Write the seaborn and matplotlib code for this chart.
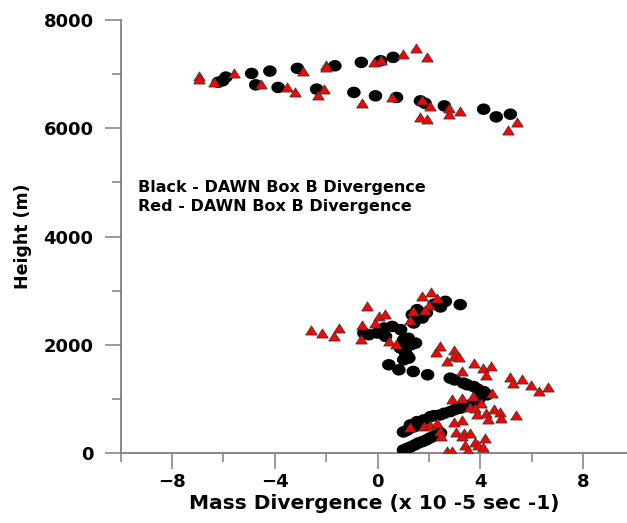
import matplotlib
matplotlib.use('Agg')
import matplotlib.pyplot as plt
import seaborn as sns
import numpy as np
import pandas as pd
from matplotlib.path import Path
from matplotlib.markers import MarkerStyle
from matplotlib.ticker import MultipleLocator

# black circles - upper and lower clusters (x in 1e-5 s-1, y in m)
black_x = [-6.03, -5.90, -6.20, -4.90, -4.19, -4.74, -3.87, -3.12, -2.37, -1.66,
           -0.92, -0.63, 0.12, 0.61, -0.08, 0.74, 1.67, 1.85, 2.60, 4.13, 4.62, 5.17,
           3.22, 2.64, 2.45, 2.20, 1.90, 1.54, 1.35, 1.74, 1.41, 0.57, 0.25, -0.01,
           -0.34, -0.53, 0.31, 0.90, 1.02, 1.20, 1.48, 1.30, 0.89, 1.09, 1.15, 1.22,
           1.02, 0.44, 0.83, 1.39, 1.95, 2.83, 3.00, 3.35, 3.50, 3.74, 3.90, 4.13,
           4.20, 4.26, 3.93, 3.80, 3.61, 3.40, 3.22, 3.00, 2.83, 2.60, 2.45, 2.20,
           2.06, 1.80, 1.54, 1.28, 1.45, 1.28, 1.15, 1.01, 1.01, 1.15, 1.28, 1.45,
           1.59, 1.75, 1.90, 2.05, 2.21, 2.35, 2.45]
black_y = [6877, 6945, 6850, 7013, 7056, 6802, 6754, 7106, 6723, 7154,
           6662, 7217, 7247, 7310, 6599, 6569, 6506, 6460, 6413, 6352, 6210, 6260,
           2741, 2802, 2698, 2750, 2590, 2648, 2556, 2494, 2402, 2339, 2309, 2217,
           2185, 2217, 2154, 2280, 2093, 2120, 2031, 2000, 1939, 1846, 1800, 1754,
           1722, 1630, 1537, 1506, 1445, 1383, 1350, 1291, 1260, 1228, 1180, 1135,
           1100, 1074, 982, 940, 889, 860, 828, 800, 765, 735, 704, 690,
           672, 611, 580, 519, 490, 463, 420, 389, 56, 85, 111, 150,
           185, 210, 241, 280, 315, 340, 370]

# red triangles
red_x = [-6.94, -6.94, -6.36, -5.58, -4.54, -3.53, -3.22, -2.92, -2.02, -2.02,
         -2.08, -2.30, -0.60, -0.14, 0.12, 1.00, 1.49, 1.93, 0.57, 1.74, 2.06,
         1.64, 1.93, 2.77, 2.77, 3.22, 5.42, 5.06,
         -2.60, -2.15, -1.70, -1.50, -0.40, -0.62, -0.66, -0.08, 0.05, 0.31, 0.44,
         0.70, 1.25, 1.39, 1.74, 2.10, 2.32, 1.99, 1.86, 2.28, 2.45, 2.71, 2.96,
         2.99, 3.16, 3.29, 3.74, 4.09, 4.23, 4.41, 5.17, 5.27, 5.64, 5.98, 6.29,
         6.65, 4.45, 3.72, 2.90, 3.29, 4.03, 3.58, 3.81, 3.87, 4.23, 4.52, 4.78,
         4.82, 5.40, 4.30, 2.96, 3.29, 1.25, 1.80, 2.06, 2.32, 2.42, 2.49, 3.07,
         3.35, 3.58, 3.81, 3.42, 3.93, 4.19, 4.09, 3.51, 2.71, 2.90, 3.29]
red_y = [6958, 6908, 6858, 7019, 6815, 6765, 6673, 7061, 7167, 7125,
         6723, 6612, 6460, 7228, 7265, 7371, 7476, 7315, 6569, 6519, 6413,
         6217, 6167, 6371, 6260, 6321, 6117, 5969,
         2265, 2217, 2154, 2309, 2709, 2370, 2105, 2402, 2524, 2568, 2061,
         2019, 2463, 2617, 2908, 2969, 2865, 2741, 2648, 1858, 1969, 1704, 1908,
         1796, 1765, 1506, 1661, 1568, 1445, 1611, 1402, 1302, 1370, 1259, 1154,
         1217, 1105, 1056, 993, 1012, 920, 858, 828, 722, 747, 809, 765,
         654, 704, 624, 580, 611, 474, 500, 519, 548, 413, 315, 395,
         365, 376, 209, 148, 148, 272, 117, 56, 43, 43, 315]

legend_lines = ["Black - DAWN Box B Divergence", "Red - DAWN Box B Divergence"]

sns.set_style("white")
plt.rcParams['font.family'] = ['DejaVu Sans']
plt.rcParams['font.weight'] = 'bold'
plt.rcParams['text.color'] = 'black'
plt.rcParams['axes.labelcolor'] = 'black'

df_black = pd.DataFrame({"x": black_x, "y": black_y})
df_red = pd.DataFrame({"x": red_x, "y": red_y})

# markers look slightly stretched horizontally in the original
t = np.linspace(0, 2 * np.pi, 40)
ellipse = MarkerStyle(Path(np.column_stack([np.cos(t), 0.85 * np.sin(t)]), closed=True))
tri = MarkerStyle(Path([[0, 0.79], [-1, -0.79], [1, -0.79], [0, 0.79]], closed=True))

fig = plt.figure(figsize=(6.27, 5.23), dpi=100)
ax = fig.add_axes([120.6 / 627, 70 / 523, (627 - 120.6) / 627, 433 / 523])

sns.scatterplot(df_black, x="x", y="y", ax=ax, marker=ellipse, s=95,
                color="black", edgecolor="none", linewidth=0, zorder=3)
sns.scatterplot(df_red, x="x", y="y", ax=ax, marker=tri, s=68,
                color="#ff0000", edgecolor="#3a3a3a", linewidth=0.6, zorder=4)

ax.set_xlim(-10, 9.71)
ax.set_ylim(0, 8000)
ax.set_xticks([-8, -4, 0, 4, 8])
ax.set_xticks([-10, -6, -2, 2, 6], minor=True)
ax.yaxis.set_major_locator(MultipleLocator(2000))
ax.yaxis.set_minor_locator(MultipleLocator(1000))

for side in ["top", "right"]:
    ax.spines[side].set_visible(False)
for side in ["left", "bottom"]:
    ax.spines[side].set_color("#7f7f7f")
    ax.spines[side].set_linewidth(1.3)

ax.tick_params(which="major", direction="out", length=11.5, width=1.1,
               color="#7f7f7f", labelcolor="black", labelsize=13, left=True, bottom=True)
ax.tick_params(which="minor", direction="out", length=6.5, width=1.1,
               color="#7f7f7f", left=True, bottom=True)
ax.tick_params(axis="y", which="major", pad=8)
ax.tick_params(axis="x", which="major", pad=3)
for lab in ax.get_xticklabels() + ax.get_yticklabels():
    lab.set_fontweight("bold")

ax.set_xlabel("Mass Divergence (x 10 -5 sec -1)", fontsize=14.5, fontweight="bold", labelpad=2)
ax.set_ylabel("Height (m)", fontsize=12.5, fontweight="bold", labelpad=8)

ax.text(-9.32, 4908, legend_lines[0], fontsize=11.5, fontweight="bold", va="center", ha="left")
ax.text(-9.32, 4556, legend_lines[1], fontsize=11.5, fontweight="bold", va="center", ha="left")

fig.savefig("out.png", dpi=100)
plt.close()
